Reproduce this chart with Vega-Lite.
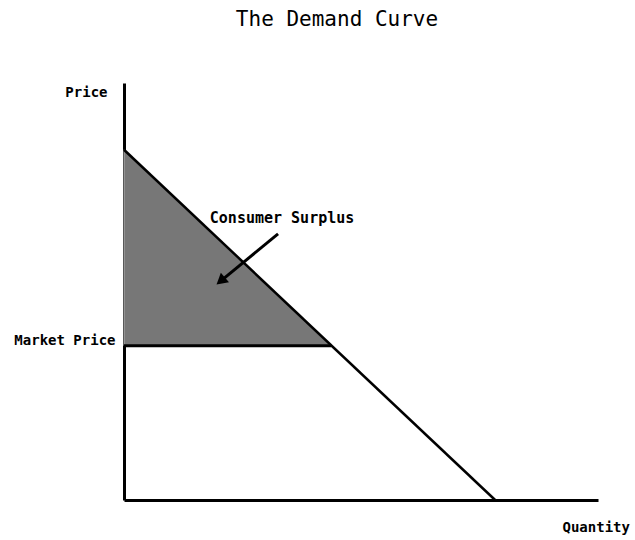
{
  "$schema": "https://vega.github.io/schema/vega-lite/v6.json",
  "autosize": {"type": "none"},
  "padding": {"left": 124, "top": 83, "right": 37, "bottom": 40},
  "width": 474,
  "height": 417,
  "background": "white",
  "config": {"view": {"stroke": null}},
  "title": {
    "text": "The Demand Curve",
    "font": "DejaVu Sans Mono",
    "fontSize": 21,
    "fontWeight": "normal",
    "color": "black",
    "anchor": "middle",
    "dx": -24,
    "offset": 36,
    "baseline": "alphabetic"
  },
  "datasets": {
    "demand": [{"quantity": 0, "price": 84}, {"quantity": 78.3, "price": 0}],
    "surplus": [{"quantity": 0, "price": 84, "market": 37}, {"quantity": 43.7, "price": 37, "market": 37}],
    "marketLine": [{"q0": 0, "q1": 43.7, "price": 37}],
    "arrow": [{"x0": 32.5, "y0": 63.8, "x1": 20.7, "y1": 52.8}],
    "label": [{"quantity": 18.1, "price": 67.6, "text": "Consumer Surplus"}]
  },
  "layer": [
    {
      "data": {"name": "surplus"},
      "mark": {"type": "area", "color": "#777777", "stroke": "#b0b0b0", "strokeWidth": 1},
      "encoding": {
        "x": {
          "field": "quantity", "type": "quantitative",
          "scale": {"domain": [0, 100], "nice": false, "zero": false},
          "axis": {
            "values": [], "labels": false, "ticks": false, "grid": false,
            "domainWidth": 3, "domainColor": "black",
            "title": "Quantity",
            "titleFont": "DejaVu Sans Mono", "titleFontWeight": "bold", "titleFontSize": 14, "titleColor": "black",
            "titleAlign": "left", "titleBaseline": "middle", "titleAnchor": "start",
            "titleX": 438, "titleY": 27
          }
        },
        "y": {
          "field": "price", "type": "quantitative",
          "scale": {"domain": [0, 100], "nice": false, "zero": false},
          "axis": {
            "values": [37], "labelExpr": "'Market Price'", "ticks": false, "grid": false,
            "domainWidth": 3, "domainColor": "black",
            "labelFont": "DejaVu Sans Mono", "labelFontWeight": "bold", "labelFontSize": 14, "labelColor": "black",
            "labelPadding": 9, "labelOffset": -5,
            "title": "Price",
            "titleFont": "DejaVu Sans Mono", "titleFontWeight": "bold", "titleFontSize": 14, "titleColor": "black",
            "titleAngle": 0, "titleAlign": "right", "titleBaseline": "middle",
            "titleX": -17, "titleY": 9
          }
        },
        "y2": {"field": "market"}
      }
    },
    {
      "data": {"name": "demand"},
      "mark": {"type": "line", "color": "black", "strokeWidth": 2.5},
      "encoding": {
        "x": {"field": "quantity", "type": "quantitative"},
        "y": {"field": "price", "type": "quantitative"}
      }
    },
    {
      "data": {"name": "marketLine"},
      "mark": {"type": "rule", "color": "black", "strokeWidth": 3},
      "encoding": {
        "x": {"field": "q0", "type": "quantitative"},
        "x2": {"field": "q1"},
        "y": {"field": "price", "type": "quantitative"}
      }
    },
    {
      "data": {"name": "arrow"},
      "mark": {"type": "rule", "color": "black", "strokeWidth": 3},
      "encoding": {
        "x": {"field": "x0", "type": "quantitative"},
        "x2": {"field": "x1"},
        "y": {"field": "y0", "type": "quantitative"},
        "y2": {"field": "y1"}
      }
    },
    {
      "data": {"name": "arrow"},
      "mark": {"type": "point", "shape": "triangle", "filled": true, "color": "black", "size": 160, "angle": 230, "opacity": 1},
      "encoding": {
        "x": {"field": "x1", "type": "quantitative"},
        "y": {"field": "y1", "type": "quantitative"}
      }
    },
    {
      "data": {"name": "label"},
      "mark": {"type": "text", "font": "DejaVu Sans Mono", "fontWeight": "bold", "fontSize": 15, "color": "black", "align": "left", "baseline": "middle"},
      "encoding": {
        "x": {"field": "quantity", "type": "quantitative"},
        "y": {"field": "price", "type": "quantitative"},
        "text": {"field": "text"}
      }
    }
  ]
}
